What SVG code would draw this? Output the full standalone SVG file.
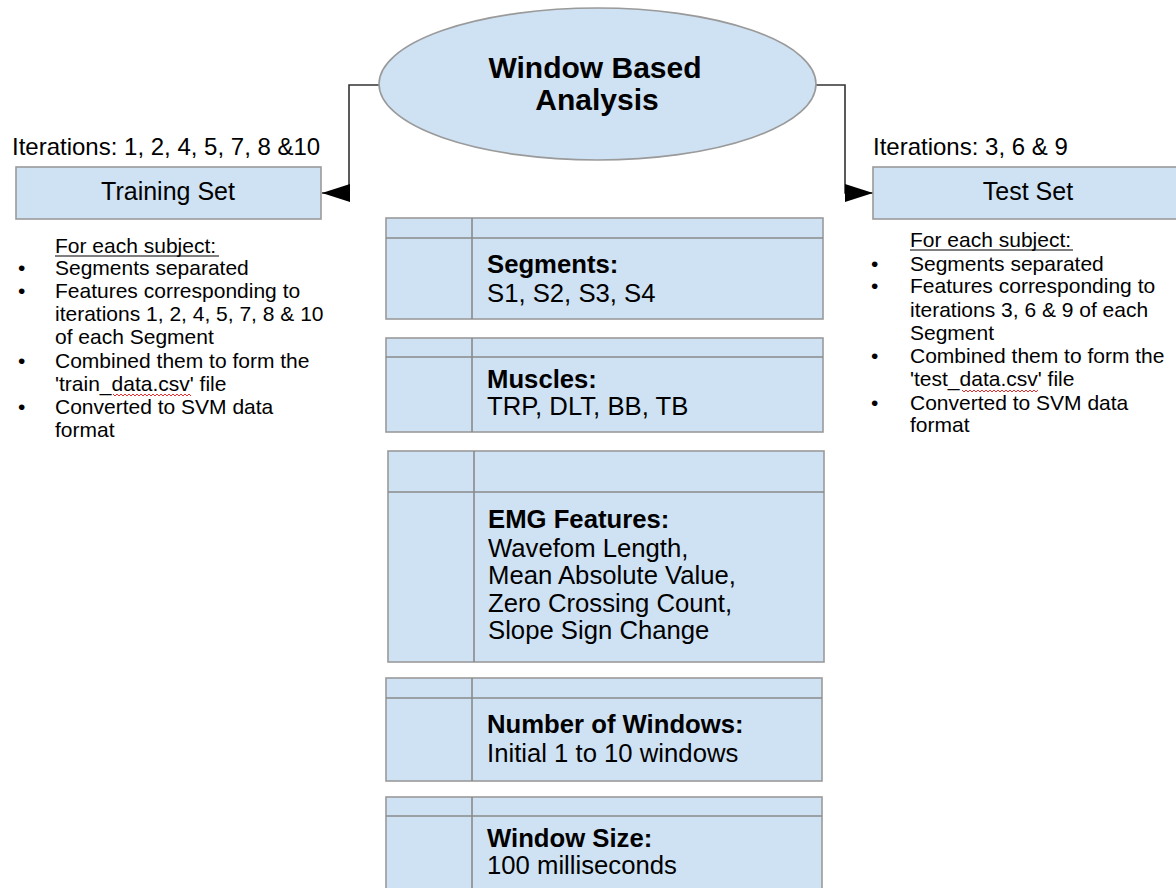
<svg xmlns="http://www.w3.org/2000/svg" width="1176" height="888" viewBox="0 0 1176 888">
<style>
.shape{fill:#cfe2f3;stroke:#9a9a9a;stroke-width:1.6}
.div{fill:none;stroke:#8a8a8a;stroke-width:1.6}
text{font-family:"Liberation Sans",Arial,sans-serif;fill:#000}
.title{font-size:30px;font-weight:bold;text-anchor:middle}
.lbl{font-size:25px;text-anchor:middle}
.iter{font-size:24px}
.bl{font-size:21px}
.mid{font-size:25.7px}
.b{font-weight:bold}
.conn{fill:none;stroke:#333;stroke-width:1.6}
.squig{fill:none;stroke:#e03030;stroke-width:1}
</style>
<defs>
<marker id="arr" markerUnits="userSpaceOnUse" markerWidth="28" markerHeight="18" refX="28" refY="9" orient="auto">
<path d="M0,0 L28,9 L0,18 Z" fill="#000"/>
</marker>
</defs>
<rect width="1176" height="888" fill="#fff"/>

<g id="connectors">
<path class="conn" d="M379,85 H349 V193 H322" marker-end="url(#arr)"/>
<path class="conn" d="M816,85 H845 V193 H873" marker-end="url(#arr)"/>
</g>

<g id="root">
<ellipse class="shape" cx="597.5" cy="84" rx="218.5" ry="76"/>
<text class="title" x="595" y="78">Window Based</text>
<text class="title" x="597" y="110">Analysis</text>
</g>

<g id="training">
<text class="iter" x="12" y="155">Iterations: 1, 2, 4, 5, 7, 8 &amp;10</text>
<rect class="shape" x="16" y="167" width="305" height="52"/>
<text class="lbl" x="168" y="200">Training Set</text>
</g>

<g id="training-notes">
<text class="bl" x="55" y="253">For each subject:</text>
<line x1="55" y1="256" x2="219" y2="256" stroke="#000" stroke-width="1.2"/>
<text class="bl" x="18" y="275">•</text>
<text class="bl" x="55" y="275">Segments separated</text>
<text class="bl" x="18" y="298">•</text>
<text class="bl" x="55" y="298">Features corresponding to</text>
<text class="bl" x="55" y="321">iterations 1, 2, 4, 5, 7, 8 &amp; 10</text>
<text class="bl" x="55" y="344">of each Segment</text>
<text class="bl" x="18" y="368">•</text>
<text class="bl" x="55" y="368">Combined them to form the</text>
<text class="bl" x="55" y="391">'train_data.csv' file</text>
<path class="squig" d="M113,394 l2,2 l2,-2 l2,2 l2,-2 l2,2 l2,-2 l2,2 l2,-2 l2,2 l2,-2 l2,2 l2,-2 l2,2 l2,-2 l2,2 l2,-2 l2,2 l2,-2 l2,2 l2,-2 l2,2 l2,-2 l2,2 l2,-2 l2,2 l2,-2 l2,2 l2,-2 l2,2 l2,-2 l2,2 l2,-2 l2,2 l2,-2 l2,2 l2,-2 l2,2 l2,-2 l2,2"/>
<text class="bl" x="18" y="414">•</text>
<text class="bl" x="55" y="414">Converted to SVM data</text>
<text class="bl" x="55" y="437">format</text>
</g>

<g id="test">
<text class="iter" x="873" y="155">Iterations: 3, 6 &amp; 9</text>
<rect class="shape" x="873" y="167" width="310" height="52"/>
<text class="lbl" x="1028" y="200">Test Set</text>
</g>

<g id="test-notes">
<text class="bl" x="910" y="247">For each subject:</text>
<line x1="910" y1="250" x2="1073" y2="250" stroke="#000" stroke-width="1.2"/>
<text class="bl" x="871" y="271">•</text>
<text class="bl" x="910" y="271">Segments separated</text>
<text class="bl" x="871" y="293">•</text>
<text class="bl" x="910" y="293">Features corresponding to</text>
<text class="bl" x="910" y="317">iterations 3, 6 &amp; 9 of each</text>
<text class="bl" x="910" y="340">Segment</text>
<text class="bl" x="871" y="363">•</text>
<text class="bl" x="910" y="363">Combined them to form the</text>
<text class="bl" x="910" y="386">'test_data.csv' file</text>
<path class="squig" d="M962,390 l2,2 l2,-2 l2,2 l2,-2 l2,2 l2,-2 l2,2 l2,-2 l2,2 l2,-2 l2,2 l2,-2 l2,2 l2,-2 l2,2 l2,-2 l2,2 l2,-2 l2,2 l2,-2 l2,2 l2,-2 l2,2 l2,-2 l2,2 l2,-2 l2,2 l2,-2 l2,2 l2,-2 l2,2 l2,-2 l2,2 l2,-2 l2,2 l2,-2 l2,2 l2,-2"/>
<text class="bl" x="871" y="410">•</text>
<text class="bl" x="910" y="410">Converted to SVM data</text>
<text class="bl" x="910" y="432">format</text>
</g>

<g id="segments">
<rect class="shape" x="386" y="218" width="437" height="101"/>
<line class="div" x1="386" y1="238" x2="823" y2="238"/>
<line class="div" x1="472" y1="218" x2="472" y2="319"/>
<text class="mid b" x="487" y="273">Segments:</text>
<text class="mid" x="487" y="302">S1, S2, S3, S4</text>
</g>

<g id="muscles">
<rect class="shape" x="386" y="338" width="437" height="94"/>
<line class="div" x1="386" y1="357" x2="823" y2="357"/>
<line class="div" x1="472" y1="338" x2="472" y2="432"/>
<text class="mid b" x="487" y="388">Muscles:</text>
<text class="mid" x="487" y="415">TRP, DLT, BB, TB</text>
</g>

<g id="emg-features">
<rect class="shape" x="388" y="451" width="436" height="211"/>
<line class="div" x1="388" y1="492" x2="824" y2="492"/>
<line class="div" x1="474" y1="451" x2="474" y2="662"/>
<text class="mid b" x="488" y="528">EMG Features:</text>
<text class="mid" x="488" y="557">Wavefom Length,</text>
<text class="mid" x="488" y="584">Mean Absolute Value,</text>
<text class="mid" x="488" y="612">Zero Crossing Count,</text>
<text class="mid" x="488" y="639">Slope Sign Change</text>
</g>

<g id="num-windows">
<rect class="shape" x="386" y="678" width="436" height="103"/>
<line class="div" x1="386" y1="698" x2="822" y2="698"/>
<line class="div" x1="472" y1="678" x2="472" y2="781"/>
<text class="mid b" x="487" y="733">Number of Windows:</text>
<text class="mid" x="487" y="762">Initial 1 to 10 windows</text>
</g>

<g id="window-size">
<rect class="shape" x="386" y="797" width="436" height="110"/>
<line class="div" x1="386" y1="816" x2="822" y2="816"/>
<line class="div" x1="472" y1="797" x2="472" y2="907"/>
<text class="mid b" x="487" y="847">Window Size:</text>
<text class="mid" x="487" y="874">100 milliseconds</text>
</g>
</svg>
